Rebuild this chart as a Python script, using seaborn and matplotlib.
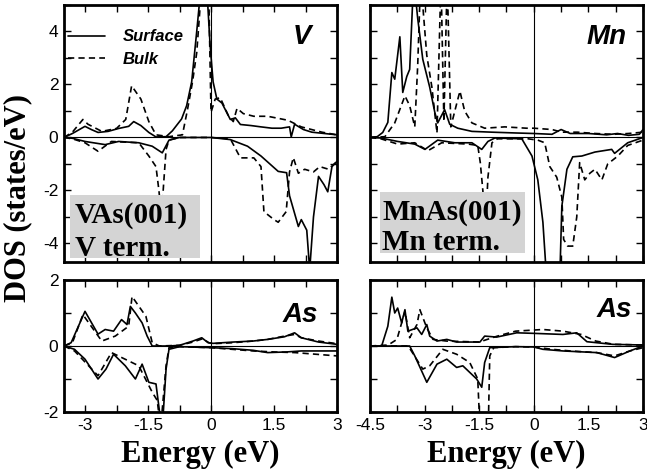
import numpy as np
import pandas as pd
import seaborn as sns
import matplotlib
matplotlib.use("Agg")
import matplotlib.pyplot as plt
from matplotlib.lines import Line2D
from matplotlib.patches import Rectangle
from matplotlib.ticker import MultipleLocator

# ---------------- data ----------------
# V panel (VAs(001), V term.)
v_surf_up_E = [-3.5, -3.3, -3.0, -2.85, -2.69, -2.45, -2.2, -1.96, -1.84, -1.67, -1.48, -1.31, -1.07, -0.92, -0.7,
               -0.58, -0.46, -0.34, -0.25, -0.15, -0.02, 0.05, 0.14, 0.26, 0.34, 0.46, 0.58, 0.7, 0.95, 1.19,
               1.45, 1.67, 1.87, 1.91, 1.99, 2.2, 2.4, 2.7, 3.0]
v_surf_up = [0, 0.15, 0.42, 0.3, 0.19, 0.23, 0.34, 0.42, 0.6, 0.45, 0.19, 0.02, 0.03, 0.25, 0.7,
             1.2, 2.1, 4.0, 5.5, 7.0, 3.45, 2.1, 1.45, 1.3, 1.05, 0.68, 0.74, 0.49, 0.45, 0.4,
             0.35, 0.35, 0.4, 0.02, 0.5, 0.3, 0.2, 0.15, 0.1]
v_bulk_up_E = [-3.5, -3.3, -3.05, -2.93, -2.6, -2.25, -2.03, -1.89, -1.67, -1.48, -1.31, -1.0, -0.68, -0.56, -0.44,
               -0.34, -0.27, -0.15, -0.06, 0.0, 0.1, 0.22, 0.42, 0.53, 0.62, 0.77, 1.02, 1.35, 1.83, 2.15,
               2.64, 3.0]
v_bulk_up = [0, 0.2, 0.68, 0.5, 0.23, 0.34, 0.68, 1.95, 1.45, 0.6, 0.1, 0.03, 0.1, 1.05, 2.1,
             3.2, 4.7, 8.0, 6.0, 0.95, 1.45, 1.5, 0.8, 0.6, 1.1, 0.9, 0.8, 0.8, 0.65, 0.4,
             0.2, 0.1]
v_surf_dn_E = [-3.5, -3.3, -3.0, -2.52, -2.2, -1.72, -1.4, -1.16, -1.0, -0.75, 0.0, 0.46, 0.87, 1.19, 1.6,
               1.8, 1.87, 2.08, 2.15, 2.28, 2.35, 2.44, 2.56, 2.69, 2.78, 2.88, 3.0]
v_surf_dn = [0, -0.03, -0.15, -0.27, -0.15, -0.2, -0.33, -0.58, -0.1, 0, 0, -0.08, -0.33, -0.7, -1.28,
             -1.33, -2.2, -3.36, -3.1, -3.5, -5.0, -3.0, -1.47, -1.78, -2.05, -1.1, -0.9]
v_bulk_dn_E = [-3.5, -3.3, -3.0, -2.69, -2.37, -1.72, -1.48, -1.31, -1.24, -1.18, -1.13, -1.07, -1.0, -0.75, 0.0,
               0.46, 0.7, 1.02, 1.19, 1.26, 1.5, 1.6, 1.79, 1.87, 1.96, 2.08, 2.23, 2.44, 2.59, 2.8, 3.0]
v_bulk_dn = [0, -0.05, -0.2, -0.52, -0.15, -0.2, -0.7, -1.1, -2.0, -3.0, -1.8, -0.45, -0.1, 0, 0,
             -0.05, -0.77, -0.77, -1.1, -2.8, -3.1, -3.2, -2.8, -1.3, -0.76, -1.35, -1.2, -1.3, -1.1, -1.2, -0.9]

# Mn panel (MnAs(001), Mn term.)
mn_surf_up_E = [-4.5, -4.3, -4.15, -4.01, -3.9, -3.82, -3.68, -3.6, -3.49, -3.41, -3.3, -3.19, -3.05, -2.86, -2.72,
                -2.64, -2.45, -2.31, -2.09, -1.7, -1.15, -0.5, 0.0, 0.5, 0.75, 1.0, 1.5, 2.0, 2.3, 2.6, 2.9, 3.0]
mn_surf_up = [0, 0.03, 0.19, 0.57, 2.45, 2.2, 3.8, 1.7, 2.3, 2.57, 6.0, 4.5, 2.95, 1.9, 0.95,
              0.55, 1.05, 0.5, 0.35, 0.23, 0.2, 0.17, 0.15, 0.12, 0.3, 0.15, 0.15, 0.1, 0.15, 0.08, 0.12, 0.3]
mn_bulk_up_E = [-4.5, -4.09, -3.82, -3.54, -3.41, -3.27, -3.19, -3.11, -2.94, -2.8, -2.66, -2.55, -2.47, -2.38, -2.28,
                -2.17, -2.03, -1.9, -1.7, -1.35, -0.8, -0.2, 0.0, 0.5, 0.77, 1.2, 1.68, 2.2, 2.6, 3.0]
mn_bulk_up = [0, 0.03, 0.55, 1.57, 1.2, 0.4, 2.7, 6.0, 3.1, 1.9, 0.17, 6.0, 0.6, 6.0, 0.4,
              1.0, 1.75, 1.0, 0.55, 0.35, 0.4, 0.35, 0.35, 0.3, 0.2, 0.2, 0.15, 0.12, 0.15, 0.2]
mn_surf_dn_E = [-4.5, -4.2, -3.74, -3.27, -2.99, -2.64, -2.17, -1.7, -1.43, -1.26, -1.07, -0.33, -0.05, 0.11, 0.25,
                0.36, 0.55, 0.71, 0.77, 0.91, 1.07, 1.32, 1.68, 2.14, 2.22, 2.58, 3.0]
mn_surf_dn = [0, -0.02, -0.15, -0.25, -0.45, -0.1, -0.2, -0.2, -0.45, -0.15, -0.02, -0.05, -0.7, -1.6, -3.2,
              -5.5, -7.0, -5.5, -2.6, -1.2, -0.73, -0.7, -0.55, -0.45, -0.6, -0.2, 0]
mn_bulk_dn_E = [-4.5, -4.2, -3.74, -3.27, -2.91, -2.53, -1.8, -1.54, -1.47, -1.4, -1.33, -1.26, -1.15, -1.0, -0.16,
                0.11, 0.3, 0.44, 0.63, 0.77, 0.82, 0.93, 1.07, 1.18, 1.26, 1.4, 1.54, 1.68, 1.87, 2.03,
                2.31, 2.58, 3.0]
mn_bulk_dn = [0, -0.05, -0.25, -0.2, -0.5, -0.2, -0.25, -0.3, -0.95, -2.0, -3.5, -1.5, -0.2, -0.05, -0.05,
              -0.1, -0.2, -1.1, -1.5, -2.25, -3.85, -4.1, -4.1, -3.0, -0.95, -1.6, -1.35, -1.2, -1.6, -1.0,
              -0.7, -0.3, -0.1]

# As panel of VAs
as1_surf_up_E = [-3.5, -3.33, -3.0, -2.69, -2.52, -2.32, -2.13, -2.0, -1.92, -1.8, -1.64, -1.52, -1.4, -1.0, -0.75,
                 -0.43, -0.22, -0.07, 0.05, 0.53, 1.0, 1.35, 1.75, 1.99, 2.15, 2.56, 3.0]
as1_surf_up = [0, 0.1, 1.05, 0.36, 0.5, 0.45, 0.8, 0.65, 1.2, 1.0, 0.7, 0.3, 0.0, 0.0, 0.02,
               0.15, 0.25, 0.1, 0.08, 0.12, 0.15, 0.2, 0.28, 0.4, 0.25, 0.12, 0.05]
as1_bulk_up_E = [-3.5, -3.3, -3.05, -2.6, -2.28, -1.96, -1.88, -1.55, -1.4, -1.23, -0.75, -0.43, -0.2, -0.05, 0.05,
                 0.53, 1.0, 1.35, 1.75, 1.99, 2.15, 2.56, 3.0]
as1_bulk_up = [0, 0.1, 0.95, 0.15, 0.3, 0.6, 1.5, 0.9, 0.1, 0.0, 0.02, 0.12, 0.22, 0.1, 0.07,
               0.1, 0.15, 0.2, 0.3, 0.35, 0.25, 0.15, 0.07]
as1_surf_dn_E = [-3.5, -3.25, -3.0, -2.69, -2.5, -2.32, -2.04, -1.8, -1.64, -1.48, -1.31, -1.23, -1.16, -1.07, -1.0,
                 -0.75, 0.0, 0.5, 1.0, 1.35, 1.8, 2.15, 2.6, 3.0]
as1_surf_dn = [0, -0.1, -0.4, -1.0, -0.7, -0.25, -0.6, -1.0, -0.55, -1.1, -1.15, -1.95, -2.5, -0.7, -0.1,
               -0.02, -0.05, -0.08, -0.13, -0.2, -0.18, -0.15, -0.15, -0.15]
as1_bulk_dn_E = [-3.5, -3.25, -2.69, -2.37, -1.72, -1.4, -1.28, -1.2, -1.07, -1.0, -0.75, 0.0, 0.5, 1.0, 1.5,
                 2.0, 2.5, 3.0]
as1_bulk_dn = [0, -0.15, -0.9, -0.2, -0.6, -1.4, -1.65, -2.5, -0.6, -0.05, -0.02, -0.05, -0.1, -0.15, -0.18,
               -0.2, -0.25, -0.3]

# As panel of MnAs
as2_surf_up_E = [-4.5, -4.18, -4.01, -3.9, -3.82, -3.74, -3.63, -3.54, -3.46, -3.21, -3.08, -2.94, -2.86, -2.66, -2.39,
                 -2.12, -1.48, -1.35, -1.02, -0.47, 0.08, 0.8, 1.18, 1.46, 2.17, 3.0]
as2_surf_up = [0, 0.0, 0.6, 1.48, 1.0, 1.15, 0.7, 1.1, 0.45, 0.55, 0.35, 0.65, 0.3, 0.15, 0.2,
               0.12, 0.12, 0.3, 0.27, 0.4, 0.38, 0.35, 0.4, 0.13, 0.05, 0.03]
as2_bulk_up_E = [-4.5, -4.0, -3.76, -3.54, -3.41, -3.21, -3.13, -2.94, -2.77, -2.4, -1.5, -1.0, -0.5, 0.25, 0.8,
                 1.3, 1.7, 2.2, 3.0]
as2_bulk_up = [0, 0.03, 0.2, 1.05, 0.25, 0.65, 1.1, 0.55, 0.2, 0.15, 0.12, 0.3, 0.45, 0.5, 0.45,
               0.35, 0.15, 0.05, 0.03]
as2_surf_dn_E = [-4.5, -3.41, -3.27, -2.94, -2.66, -2.39, -2.12, -1.95, -1.76, -1.57, -1.43, -1.35, -1.21, -0.5, 0.0,
                 0.25, 0.8, 1.73, 2.22, 2.64, 3.0]
as2_surf_dn = [0, 0, -0.3, -1.1, -0.55, -0.4, -0.65, -0.6, -0.8, -1.0, -1.25, -0.5, -0.05, -0.02, -0.03,
               -0.1, -0.15, -0.2, -0.35, -0.15, 0]
as2_bulk_dn_E = [-4.5, -3.45, -3.05, -2.86, -2.5, -2.12, -1.76, -1.54, -1.46, -1.26, -1.21, -1.1, -0.5, 0.0, 0.5,
                 1.0, 1.73, 2.22, 2.64, 3.0]
as2_bulk_dn = [0, 0, -0.7, -0.6, -0.1, -0.25, -0.5, -1.0, -3.0, -3.0, -0.3, -0.05, -0.02, -0.03, -0.1,
               -0.15, -0.2, -0.3, -0.15, -0.05]

series_labels = ["Surface", "Bulk"]
panel_labels = ["V", "Mn", "As", "As"]
box_texts = ["VAs(001)\nV term.", "MnAs(001)\nMn term."]
x_ticklabels_left = ["-3", "-1.5", "0", "1.5", "3"]
x_ticklabels_right = ["-4.5", "-3", "-1.5", "0", "1.5", "3"]

# ---------------- style ----------------
sns.set_style("ticks")
plt.rcParams["font.family"] = ["Liberation Sans", "DejaVu Sans"]
plt.rcParams["lines.scale_dashes"] = False
for key in ("text.color", "axes.labelcolor", "xtick.color", "ytick.color", "axes.edgecolor"):
    plt.rcParams[key] = "black"
SANS = "Liberation Sans"
SERIF = "Liberation Serif"
DASH = (4.5, 3.0)
LW = 1.2

fig = plt.figure(figsize=(6.47, 4.72), dpi=100)
W, H = 647.0, 472.0


def add_ax(x0, y0, x1, y1):
    return fig.add_axes([x0 / W, 1 - y1 / H, (x1 - x0) / W, (y1 - y0) / H])


ax_tl = add_ax(64, 5, 337, 262)
ax_bl = add_ax(64, 280, 337, 412)
ax_tr = add_ax(370, 5, 643, 262)
ax_br = add_ax(370, 280, 643, 412)


def draw(ax, E, D, dashed):
    sns.lineplot(x=E, y=D, ax=ax, color="k", lw=LW, sort=False, estimator=None, zorder=2)
    if dashed:
        ax.lines[-1].set_dashes(DASH)


panels = [
    (ax_tl, [(v_surf_up_E, v_surf_up, False), (v_bulk_up_E, v_bulk_up, True),
             (v_surf_dn_E, v_surf_dn, False), (v_bulk_dn_E, v_bulk_dn, True)]),
    (ax_tr, [(mn_surf_up_E, mn_surf_up, False), (mn_bulk_up_E, mn_bulk_up, True),
             (mn_surf_dn_E, mn_surf_dn, False), (mn_bulk_dn_E, mn_bulk_dn, True)]),
    (ax_bl, [(as1_surf_up_E, as1_surf_up, False), (as1_bulk_up_E, as1_bulk_up, True),
             (as1_surf_dn_E, as1_surf_dn, False), (as1_bulk_dn_E, as1_bulk_dn, True)]),
    (ax_br, [(as2_surf_up_E, as2_surf_up, False), (as2_bulk_up_E, as2_bulk_up, True),
             (as2_surf_dn_E, as2_surf_dn, False), (as2_bulk_dn_E, as2_bulk_dn, True)]),
]
for ax, lines in panels:
    ax.axhline(0, color="k", lw=0.8, zorder=1)
    ax.axvline(0, color="k", lw=0.8, zorder=1)
    for E, D, dashed in lines:
        draw(ax, E, D, dashed)

for ax in (ax_tl, ax_bl):
    ax.set_xlim(-3.5, 3)
for ax in (ax_tr, ax_br):
    ax.set_xlim(-4.5, 3)
for ax in (ax_tl, ax_tr):
    ax.set_ylim(-4.7, 5)
    ax.yaxis.set_major_locator(MultipleLocator(2))
    ax.yaxis.set_minor_locator(MultipleLocator(1))
for ax in (ax_bl, ax_br):
    ax.set_ylim(-2, 2)
    ax.yaxis.set_major_locator(MultipleLocator(2))
    ax.yaxis.set_minor_locator(MultipleLocator(1))

for ax in (ax_tl, ax_bl, ax_tr, ax_br):
    ax.xaxis.set_major_locator(MultipleLocator(1.5))
    ax.xaxis.set_minor_locator(MultipleLocator(0.75))
    ax.tick_params(which="both", direction="in", top=True, right=True, length=5, width=1,
                   labelsize=12.5, pad=4, color="black", labelcolor="black")
    for s in ax.spines.values():
        s.set_linewidth(2.0)
        s.set_edgecolor("black")
        s.set_zorder(5)
    ax.set_xlabel("")
    ax.set_ylabel("")
    for lab in ax.get_xticklabels() + ax.get_yticklabels():
        lab.set_family(SANS)

ax_tl.tick_params(labelbottom=False)
ax_tr.tick_params(labelbottom=False, labelleft=False)
ax_br.tick_params(labelleft=False)
ax_tl.set_yticks([-4, -2, 0, 2, 4])
ax_tl.set_yticklabels(["-4", "-2", "0", "2", "4"])
ax_bl.set_yticks([-2, 0, 2])
ax_bl.set_yticklabels(["-2", "0", "2"])
ax_bl.set_xticks([-3, -1.5, 0, 1.5, 3])
ax_bl.set_xticklabels(x_ticklabels_left)
ax_br.set_xticks([-4.5, -3, -1.5, 0, 1.5, 3])
ax_br.set_xticklabels(x_ticklabels_right)

# panel labels
lab_kw = dict(fontfamily=SANS, fontweight="bold", fontstyle="italic", fontsize=20,
              ha="right", va="top", zorder=6, color="black")
ax_tl.text(0.905, 0.925, panel_labels[0], transform=ax_tl.transAxes, **lab_kw)
ax_tr.text(0.94, 0.925, panel_labels[1], transform=ax_tr.transAxes, **lab_kw)
ax_bl.text(0.93, 0.83, panel_labels[2], transform=ax_bl.transAxes, **lab_kw)
ax_br.text(0.96, 0.87, panel_labels[3], transform=ax_br.transAxes, **lab_kw)

# legend
handles = [Line2D([], [], color="k", lw=LW),
           Line2D([], [], color="k", lw=LW, dashes=DASH)]
ax_tl.legend(handles, series_labels, loc="upper left", bbox_to_anchor=(0.015, 0.905),
             frameon=False, borderpad=0, borderaxespad=0, handlelength=2.2, handletextpad=1.1,
             labelspacing=0.45, labelcolor="black",
             prop=dict(family=SANS, weight="bold", style="italic", size=12))

# gray boxes with system names
box_kw = dict(fontfamily=SERIF, fontweight="bold", fontsize=21, ha="left", va="baseline", zorder=8,
              color="black")
ax_tl.add_patch(Rectangle((0.022, 0.016), 0.476, 0.244, transform=ax_tl.transAxes,
                          facecolor="#d4d4d4", edgecolor="none", zorder=7))
l1, l2 = box_texts[0].split("\n")
ax_tl.text(0.04, 0.152, l1, transform=ax_tl.transAxes, **box_kw)
ax_tl.text(0.04, 0.025, l2, transform=ax_tl.transAxes, **box_kw)
ax_tr.add_patch(Rectangle((0.037, 0.035), 0.531, 0.237, transform=ax_tr.transAxes,
                          facecolor="#d4d4d4", edgecolor="none", zorder=7))
l1, l2 = box_texts[1].split("\n")
ax_tr.text(0.044, 0.163, l1, transform=ax_tr.transAxes, **box_kw)
ax_tr.text(0.044, 0.047, l2, transform=ax_tr.transAxes, **box_kw)

# axis titles
title_kw = dict(fontfamily=SERIF, fontweight="bold", fontsize=22, color="black")
fig.text(200.5 / W, 1 - 462 / H, "Energy (eV)", ha="center", va="baseline", **title_kw)
fig.text(506.5 / W, 1 - 462 / H, "Energy (eV)", ha="center", va="baseline", **title_kw)
fig.text(18 / W, 1 - 198 / H, "DOS (states/eV)", rotation=90, ha="center", va="center", **title_kw)

fig.savefig("out.png", dpi=100)
